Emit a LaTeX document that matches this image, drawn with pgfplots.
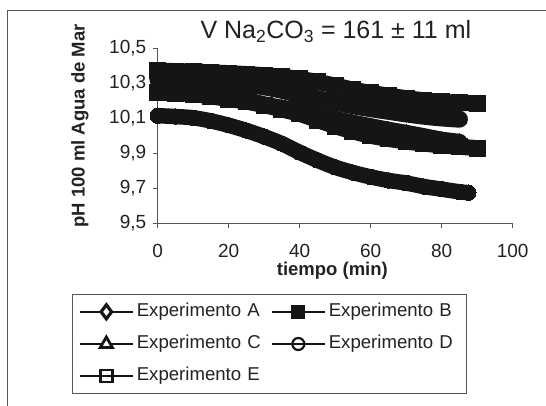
\documentclass[border=0pt]{standalone}
\usepackage{pgfplots}
\pgfplotsset{compat=1.18}
\usepackage{fontspec}
\setmainfont{Liberation Sans}
\definecolor{ink}{HTML}{151515}
\definecolor{axc}{HTML}{555555}
\definecolor{txt}{HTML}{222222}
\begin{document}
\begin{tikzpicture}
\useasboundingbox (0,0) rectangle (546bp,406bp);
\fill[white] (0,0) rectangle (546bp,406bp);
\draw[axc, line width=1bp] (7.5bp,-5bp) -- (7.5bp,395.5bp) -- (560bp,395.5bp);
\begin{axis}[
  at={(157.7bp,182.7bp)}, anchor=south west,
  scale only axis, width=355bp, height=175bp,
  xmin=0, xmax=100, ymin=9.5, ymax=10.5,
  clip=false,
  axis x line*=bottom, axis y line*=left,
  axis line style={draw=axc, line width=0.9bp, -},
  tick align=outside, major tick length=5bp,
  tick style={draw=axc, line width=0.9bp},
  xtick={0,20,40,60,80,100},
  ytick={9.5,9.7,9.9,10.1,10.3,10.5},
  ticklabel style={font=\fontsize{19bp}{22bp}\selectfont, text=txt, /pgf/number format/assume math mode=true},
  yticklabel style={xshift=-3bp, /pgf/number format/.cd, fixed, fixed zerofill, precision=1, use comma},
  xticklabel style={yshift=-12bp},
  xlabel={\textbf{tiempo (min)}},
  xlabel style={at={(axis description cs:0.492,-0.301)}, anchor=base, font=\fontsize{18.5bp}{22bp}\selectfont, text=txt},
  ylabel={\textbf{pH 100 ml Agua de Mar}},
  ylabel style={at={(axis description cs:-0.219,0.556)}, anchor=center, font=\fontsize{18.5bp}{22bp}\selectfont, text=txt},
  legend columns=2,
  legend image code/.code={\draw[mark repeat=2,mark phase=2,#1] plot coordinates {(0bp,0bp) (26.5bp,0bp) (53bp,0bp)};},
  legend style={at={(axis description cs:-0.242,-0.406)}, anchor=north west,
    draw=axc, line width=0.9bp, inner xsep=6.6bp, inner ysep=8.5bp,
    font=\fontsize{18.6bp}{22bp}\selectfont, text=txt,
    nodes={inner sep=0pt, anchor=west, text width=131bp, text height=13bp, text depth=4bp},
    column sep=3bp, row sep=15.2bp},
]
% D
\addplot[ink, line width=15.5bp, line cap=round, line join=round, smooth, mark=*, mark size=7.7bp, mark options={fill=ink, draw=ink, line width=0bp}, forget plot] coordinates {
(0,10.115) (5,10.11) (10,10.103) (15,10.085) (20,10.06) (25,10.03) (30,9.995) (35,9.955) (40,9.905) (45,9.86) (50,9.82) (55,9.79) (60,9.765) (65,9.745) (70,9.73) (75,9.71) (80,9.695) (85,9.68) (87.5,9.675)};
% B
\addplot[ink, line width=16bp, line cap=butt, line join=round, smooth, mark=square*, mark size=8bp, mark options={fill=ink, draw=ink, line width=0bp}, forget plot] coordinates {
(0,10.246) (5,10.243) (10,10.238) (15,10.225) (20,10.21) (25,10.195) (30,10.175) (35,10.15) (40,10.125) (45,10.09) (50,10.055) (55,10.025) (60,10.0) (65,9.982) (70,9.967) (75,9.955) (80,9.945) (85,9.937) (90,9.93)};
% A
\addplot[ink, line width=16bp, line cap=round, line join=round, smooth, mark=diamond*, mark size=8bp, mark options={fill=ink, draw=ink, line width=0bp}, forget plot] coordinates {
(0,10.28) (5,10.275) (10,10.265) (15,10.25) (20,10.23) (25,10.205) (30,10.18) (35,10.16) (40,10.145) (45,10.12) (50,10.097) (55,10.075) (60,10.055) (65,10.035) (70,10.017) (75,9.998) (80,9.978) (85,9.966)};
% C
\addplot[ink, line width=17bp, line cap=round, line join=round, smooth, mark=triangle*, mark size=8bp, mark options={fill=ink, draw=ink, line width=0bp}, forget plot] coordinates {
(0,10.33) (5,10.325) (10,10.32) (15,10.315) (20,10.31) (25,10.295) (30,10.28) (35,10.26) (40,10.235) (45,10.212) (50,10.192) (55,10.172) (60,10.155) (65,10.14) (70,10.125) (75,10.112) (80,10.102) (85,10.095)};
% E
\addplot[ink, line width=16bp, line cap=butt, line join=round, smooth, mark=square*, mark size=8bp, mark options={fill=ink, draw=ink, line width=0bp}, forget plot] coordinates {
(0,10.372) (5,10.37) (10,10.367) (15,10.363) (20,10.358) (25,10.353) (30,10.346) (35,10.337) (40,10.325) (45,10.308) (50,10.287) (55,10.264) (60,10.245) (65,10.23) (70,10.215) (75,10.203) (80,10.194) (85,10.188) (90,10.186)};
% legend
\addlegendimage{ink, line width=2bp, mark=diamond*, mark size=7bp, mark options={fill=white, draw=ink, line width=3.2bp}}
\addlegendentry{Experimento A}
\addlegendimage{ink, line width=2bp, mark=square*, mark size=6bp, mark options={fill=ink, draw=ink}}
\addlegendentry{Experimento B}
\addlegendimage{ink, line width=2bp, mark=triangle*, mark size=7bp, mark options={fill=white, draw=ink, line width=2.8bp}}
\addlegendentry{Experimento C}
\addlegendimage{ink, line width=2bp, mark=o, mark size=6bp, mark options={draw=ink, line width=2.2bp}}
\addlegendentry{Experimento D}
\addlegendimage{ink, line width=2bp, mark=square, mark size=6bp, mark options={draw=ink, line width=2.4bp}}
\addlegendentry{Experimento E}
\end{axis}
\node[anchor=base, font=\fontsize{25bp}{30bp}\selectfont, text=txt, inner sep=0pt] at (335.9bp,367.7bp) {V Na\textsubscript{2}CO\textsubscript{3} = 161 ± 11 ml};
\end{tikzpicture}
\end{document}
